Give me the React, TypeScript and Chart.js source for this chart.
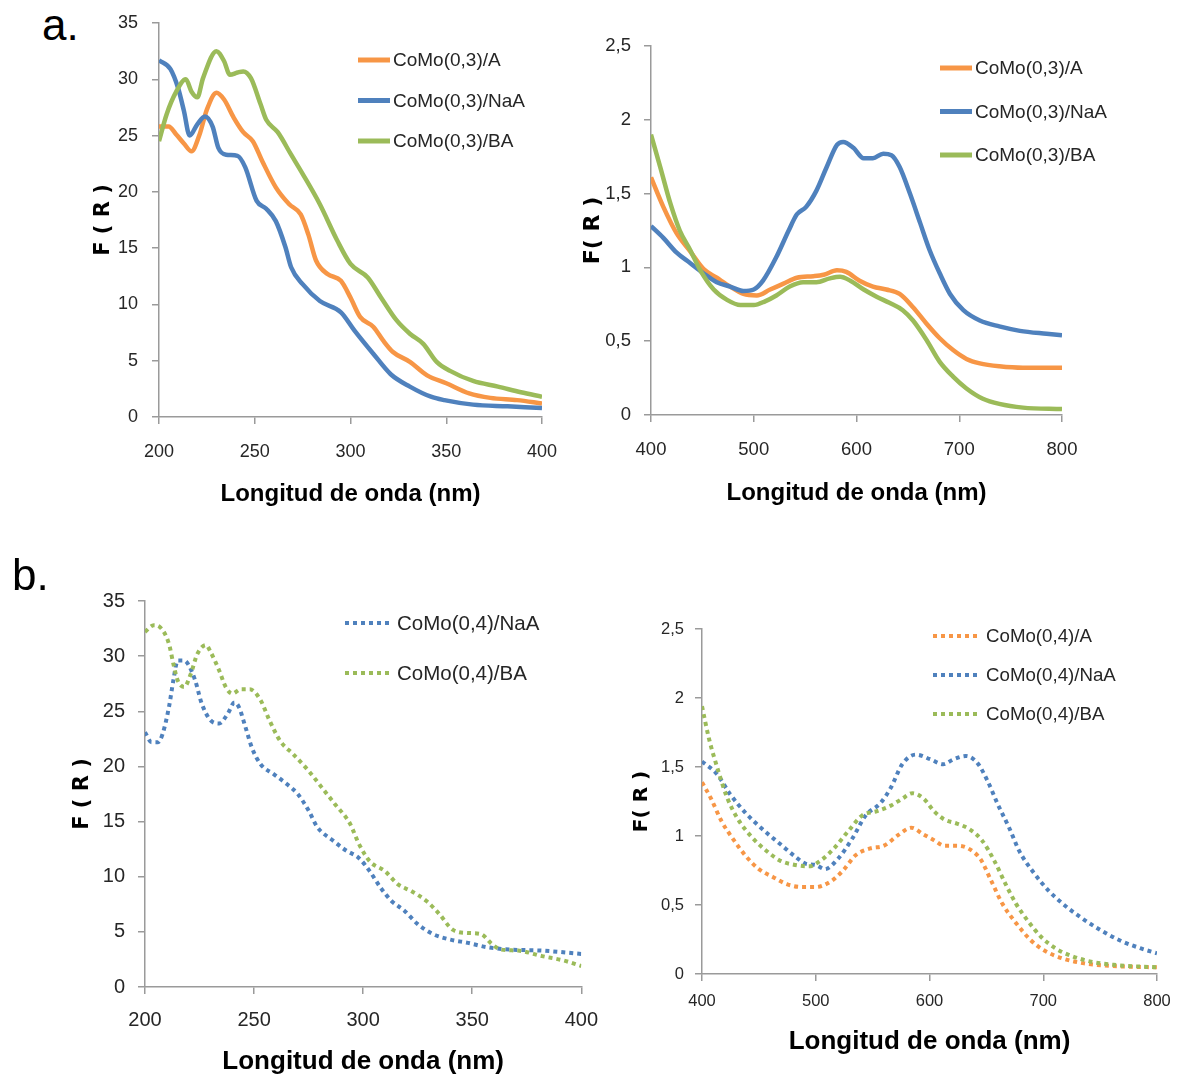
import React, { useEffect, useRef } from 'react';
import { Chart, registerables } from 'chart.js';

Chart.register(...registerables);

// ---------- Panel a (left): CoMo(0,3), 200-400 nm ----------
const a1A_x = [200, 205, 209, 213, 217, 221, 225, 230, 234, 239, 244, 249, 254, 261, 268, 274, 278, 282, 288, 295, 300, 305, 312, 317, 322, 331, 340, 350, 362, 373, 387, 400];
const a1A_y = [25.8, 25.8, 25.1, 24.3, 23.6, 25.0, 27.3, 28.8, 28.2, 26.6, 25.3, 24.5, 22.7, 20.4, 18.9, 18.0, 16.2, 13.9, 12.7, 12.1, 10.6, 8.9, 8.0, 6.8, 5.8, 4.9, 3.7, 3.0, 2.1, 1.7, 1.5, 1.2];
const a1NaA_x = [200, 206, 210, 213, 216, 220, 224, 228, 231, 235, 241, 245, 251, 256, 261, 266, 269, 275, 284, 295, 302, 312, 321, 331, 342, 349, 364, 382, 400];
const a1NaA_y = [31.7, 30.9, 29.2, 27.2, 25.0, 26.0, 26.7, 25.8, 23.9, 23.3, 23.2, 22.2, 19.2, 18.5, 17.4, 15.1, 13.3, 11.8, 10.3, 9.3, 7.7, 5.6, 3.8, 2.7, 1.8, 1.5, 1.1, 0.95, 0.8];
const a1BA_x = [200, 204, 209, 214, 217, 220, 223, 230, 234, 237, 241, 244, 248, 253, 256, 262, 269, 275, 284, 293, 300, 309, 316, 324, 331, 338, 345, 352, 364, 377, 389, 400];
const a1BA_y = [24.5, 26.9, 28.9, 30.0, 28.9, 28.4, 30.1, 32.5, 31.6, 30.4, 30.6, 30.7, 30.1, 27.8, 26.4, 25.3, 23.3, 21.6, 18.9, 15.7, 13.6, 12.4, 10.6, 8.6, 7.4, 6.5, 4.9, 4.1, 3.2, 2.7, 2.2, 1.8];

// ---------- Panel a (right): CoMo(0,3), 400-800 nm ----------
const a2A_x = [400, 412, 425, 438, 451, 464, 477, 490, 503, 516, 529, 542, 558, 568, 581, 590, 603, 616, 629, 642, 655, 668, 681, 694, 707, 720, 739, 762, 800];
const a2A_y = [1.61, 1.41, 1.23, 1.11, 0.99, 0.93, 0.87, 0.82, 0.81, 0.85, 0.89, 0.93, 0.94, 0.95, 0.98, 0.97, 0.91, 0.87, 0.85, 0.82, 0.73, 0.62, 0.52, 0.44, 0.38, 0.35, 0.33, 0.32, 0.32];
const a2NaA_x = [400, 412, 425, 438, 451, 464, 477, 490, 500, 509, 522, 534, 542, 551, 561, 571, 581, 587, 597, 607, 616, 626, 634, 642, 652, 662, 671, 681, 691, 704, 720, 739, 759, 785, 800];
const a2NaA_y = [1.28, 1.20, 1.10, 1.03, 0.96, 0.90, 0.87, 0.84, 0.85, 0.91, 1.07, 1.25, 1.36, 1.41, 1.52, 1.68, 1.83, 1.85, 1.81, 1.74, 1.74, 1.77, 1.76, 1.68, 1.50, 1.30, 1.12, 0.96, 0.82, 0.71, 0.64, 0.60, 0.57, 0.55, 0.54];
const a2BA_x = [400, 409, 419, 428, 438, 448, 461, 474, 487, 500, 511, 522, 535, 548, 561, 574, 584, 594, 607, 620, 632, 645, 655, 668, 681, 694, 707, 723, 739, 762, 800];
const a2BA_y = [1.90, 1.68, 1.43, 1.25, 1.12, 0.98, 0.85, 0.78, 0.745, 0.745, 0.77, 0.81, 0.87, 0.90, 0.90, 0.926, 0.937, 0.91, 0.85, 0.80, 0.76, 0.71, 0.64, 0.51, 0.36, 0.26, 0.18, 0.11, 0.075, 0.05, 0.04];

// ---------- Panel b (left): CoMo(0,4), 200-400 nm ----------
const b1NaA_x = [200, 203, 206, 208, 211, 213, 215, 218, 220, 223, 226, 230, 234, 238, 241, 243, 246, 249, 253, 259, 265, 270, 275, 279, 286, 292, 298, 303, 308, 313, 319, 325, 332, 340, 348, 357, 367, 382, 400];
const b1NaA_y = [23.1, 22.2, 22.2, 22.9, 25.4, 27.8, 29.6, 29.6, 29.2, 27.8, 25.7, 24.2, 23.9, 24.8, 25.8, 25.4, 23.6, 21.7, 20.2, 19.3, 18.4, 17.5, 16.0, 14.5, 13.3, 12.4, 11.7, 10.5, 9.0, 7.8, 6.9, 5.7, 4.8, 4.3, 4.0, 3.6, 3.4, 3.3, 3.0];
const b1BA_x = [200, 204, 207, 211, 213, 215, 218, 221, 224, 228, 230, 234, 237, 240, 244, 248, 253, 257, 262, 268, 275, 281, 287, 294, 298, 303, 310, 316, 322, 329, 335, 341, 348, 354, 359, 363, 371, 382, 392, 400];
const b1BA_y = [32.2, 32.8, 32.6, 31.1, 29.3, 27.8, 27.2, 28.4, 30.2, 31.0, 30.4, 28.7, 27.2, 26.6, 27.0, 27.0, 26.0, 24.2, 22.3, 21.1, 19.6, 18.1, 16.6, 14.8, 13.0, 11.4, 10.5, 9.3, 8.7, 7.8, 6.6, 5.2, 4.9, 4.8, 3.9, 3.4, 3.3, 2.8, 2.4, 1.9];

// ---------- Panel b (right): CoMo(0,4), 400-800 nm ----------
const b2A_x = [400, 408, 417, 428, 439, 450, 463, 475, 488, 500, 513, 524, 535, 548, 560, 573, 584, 595, 604, 613, 624, 634, 645, 654, 664, 676, 689, 701, 717, 736, 761, 800];
const b2A_y = [1.39, 1.27, 1.11, 0.97, 0.85, 0.76, 0.70, 0.65, 0.63, 0.63, 0.67, 0.75, 0.86, 0.91, 0.93, 1.01, 1.06, 1.01, 0.97, 0.93, 0.93, 0.91, 0.83, 0.68, 0.51, 0.37, 0.245, 0.17, 0.113, 0.077, 0.058, 0.048];
const b2NaA_x = [400, 413, 425, 438, 453, 469, 482, 491, 500, 508, 519, 532, 544, 557, 566, 576, 588, 601, 612, 621, 632, 642, 651, 660, 670, 679, 692, 704, 717, 733, 748, 767, 786, 800];
const b2NaA_y = [1.54, 1.45, 1.30, 1.17, 1.05, 0.94, 0.85, 0.80, 0.79, 0.76, 0.83, 0.98, 1.15, 1.24, 1.35, 1.52, 1.59, 1.555, 1.52, 1.555, 1.58, 1.53, 1.40, 1.23, 1.06, 0.89, 0.73, 0.61, 0.51, 0.41, 0.33, 0.245, 0.185, 0.15];
const b2BA_x = [400, 406, 414, 422, 431, 444, 457, 469, 482, 494, 504, 516, 529, 541, 554, 566, 576, 585, 595, 604, 613, 624, 635, 646, 657, 667, 676, 686, 698, 711, 723, 742, 764, 800];
const b2BA_y = [1.94, 1.71, 1.48, 1.28, 1.13, 0.99, 0.89, 0.82, 0.79, 0.78, 0.82, 0.91, 1.04, 1.15, 1.18, 1.22, 1.27, 1.31, 1.27, 1.18, 1.12, 1.09, 1.05, 0.97, 0.82, 0.65, 0.51, 0.39, 0.27, 0.185, 0.137, 0.089, 0.065, 0.048];

// ---------- Ticks ----------
const uvTicks = [200, 250, 300, 350, 400];
const uvTickLabels = ['200', '250', '300', '350', '400'];
const visTicks = [400, 500, 600, 700, 800];
const visTickLabels = ['400', '500', '600', '700', '800'];
const bigFrTicks = [0, 5, 10, 15, 20, 25, 30, 35];
const bigFrTickLabels = ['0', '5', '10', '15', '20', '25', '30', '35'];
const smallFrTicks = [0, 0.5, 1, 1.5, 2, 2.5];
const smallFrTickLabels = ['0', '0,5', '1', '1,5', '2', '2,5'];

const xTitle = 'Longitud de onda (nm)';

const C_A = '#F79646';
const C_NAA = '#4F81BD';
const C_BA = '#9BBB59';
const AXIS = '#9a9a9a';
const TXT = '#262626';
const SANS = "'Liberation Sans', Arial, sans-serif";
const BOLD_Y = "'DejaVu Sans', sans-serif";

const pairs = (xs: number[], ys: number[]) => xs.map((x, i) => ({ x, y: ys[i] }));

const manualLegend = {
  id: 'manualLegend',
  afterDraw(chart: any, _args: any, opts: any) {
    const ctx = chart.ctx as CanvasRenderingContext2D;
    ctx.save();
    chart.data.datasets.forEach((ds: any, i: number) => {
      const y = opts.y + i * opts.gap;
      ctx.strokeStyle = ds.borderColor;
      ctx.lineWidth = opts.lineWidth;
      ctx.lineCap = 'butt';
      ctx.setLineDash(ds.borderDash || []);
      ctx.beginPath();
      ctx.moveTo(opts.x, y);
      ctx.lineTo(opts.x + opts.len, y);
      ctx.stroke();
      ctx.setLineDash([]);
      ctx.fillStyle = TXT;
      ctx.font = opts.font;
      ctx.textBaseline = 'middle';
      ctx.textAlign = 'left';
      ctx.fillText(ds.label, opts.x + opts.len + opts.textGap, y + 1);
    });
    ctx.restore();
  },
};

interface Series { label: string; x: number[]; y: number[]; color: string; }
interface Spec {
  left: number; top: number; w: number; h: number;
  padTop: number; padRight: number;
  yWidth: number; xHeight: number;
  xMin: number; xMax: number; xTicks: number[]; xLabels: string[];
  yMax: number; yTicks: number[]; yLabels: string[];
  tickFont: number; xTickPad: number; yTickPad: number;
  xTitleSize: number; xTitlePad: number;
  yTitle: string; yTitleSize: number; yTitlePad: number;
  dashed: boolean;
  legend: any;
  series: Series[];
}

function buildConfig(s: Spec): any {
  return {
    type: 'line',
    data: {
      datasets: s.series.map((ser, i) => ({
        label: ser.label,
        data: pairs(ser.x, ser.y),
        borderColor: ser.color,
        backgroundColor: ser.color,
        borderWidth: s.dashed ? 4 : 4.5,
        borderDash: s.dashed ? [4, 4] : [],
        borderCapStyle: 'butt',
        pointRadius: 0,
        cubicInterpolationMode: 'monotone',
        fill: false,
        order: s.series.length - i,
      })),
    },
    options: {
      responsive: false,
      animation: false,
      devicePixelRatio: 1,
      layout: { padding: { top: s.padTop, right: s.padRight, left: 0, bottom: 0 } },
      plugins: {
        legend: { display: false },
        tooltip: { enabled: false },
        manualLegend: s.legend,
      },
      scales: {
        x: {
          type: 'linear',
          min: s.xMin,
          max: s.xMax,
          afterFit: (sc: any) => { sc.height = s.xHeight; },
          afterBuildTicks: (sc: any) => { sc.ticks = s.xTicks.map((v) => ({ value: v })); },
          ticks: {
            callback: (v: number) => s.xLabels[s.xTicks.indexOf(v)],
            font: { family: SANS, size: s.tickFont, lineHeight: 1 },
            color: TXT,
            padding: s.xTickPad,
            maxRotation: 0,
            autoSkip: false,
          },
          grid: { display: true, drawOnChartArea: false, drawTicks: true, tickLength: 7, color: AXIS, lineWidth: 1.5 },
          border: { display: true, color: AXIS, width: 1.5 },
          title: {
            display: true,
            text: xTitle,
            color: '#000',
            font: { family: SANS, size: s.xTitleSize, weight: 'bold', lineHeight: 1 },
            padding: { top: 0, bottom: s.xTitlePad },
          },
        },
        y: {
          type: 'linear',
          min: 0,
          max: s.yMax,
          afterFit: (sc: any) => { sc.width = s.yWidth; },
          afterBuildTicks: (sc: any) => { sc.ticks = s.yTicks.map((v) => ({ value: v })); },
          ticks: {
            callback: (v: number) => s.yLabels[s.yTicks.indexOf(v)],
            font: { family: SANS, size: s.tickFont, lineHeight: 1 },
            color: TXT,
            padding: s.yTickPad,
            autoSkip: false,
          },
          grid: { display: true, drawOnChartArea: false, drawTicks: true, tickLength: 7, color: AXIS, lineWidth: 1.5 },
          border: { display: true, color: AXIS, width: 1.5 },
          title: {
            display: true,
            text: s.yTitle,
            color: '#000',
            font: { family: BOLD_Y, size: s.yTitleSize, weight: 'bold', lineHeight: 1 },
            padding: { top: s.yTitlePad, bottom: 0 },
          },
        },
      },
    },
    plugins: [manualLegend],
  };
}

const specs: Spec[] = [
  {
    left: 80, top: 0, w: 500, h: 520, padTop: 22, padRight: 38, yWidth: 79, xHeight: 103,
    xMin: 200, xMax: 400, xTicks: uvTicks, xLabels: uvTickLabels,
    yMax: 35, yTicks: bigFrTicks, yLabels: bigFrTickLabels,
    tickFont: 18, xTickPad: 19, yTickPad: 14, xTitleSize: 24, xTitlePad: 14,
    yTitle: 'F ( R )', yTitleSize: 21, yTitlePad: 13.5, dashed: false,
    legend: { x: 278, y: 60, gap: 40.5, len: 32, textGap: 3, lineWidth: 5, font: `19px ${SANS}` },
    series: [
      { label: 'CoMo(0,3)/A', x: a1A_x, y: a1A_y, color: C_A },
      { label: 'CoMo(0,3)/NaA', x: a1NaA_x, y: a1NaA_y, color: C_NAA },
      { label: 'CoMo(0,3)/BA', x: a1BA_x, y: a1BA_y, color: C_BA },
    ],
  },
  {
    left: 580, top: 0, w: 607, h: 520, padTop: 46, padRight: 125, yWidth: 71, xHeight: 105,
    xMin: 400, xMax: 800, xTicks: visTicks, xLabels: visTickLabels,
    yMax: 2.5, yTicks: smallFrTicks, yLabels: smallFrTickLabels,
    tickFont: 18.5, xTickPad: 19, yTickPad: 13, xTitleSize: 24, xTitlePad: 15,
    yTitle: 'F( R )', yTitleSize: 22, yTitlePad: 2.3, dashed: false,
    legend: { x: 360, y: 68, gap: 43.5, len: 32, textGap: 3, lineWidth: 5, font: `19px ${SANS}` },
    series: [
      { label: 'CoMo(0,3)/A', x: a2A_x, y: a2A_y, color: C_A },
      { label: 'CoMo(0,3)/NaA', x: a2NaA_x, y: a2NaA_y, color: C_NAA },
      { label: 'CoMo(0,3)/BA', x: a2BA_x, y: a2BA_y, color: C_BA },
    ],
  },
  {
    left: 0, top: 560, w: 614, h: 521, padTop: 41, padRight: 0, yWidth: 145, xHeight: 94,
    xMin: 200, xMax: 400, xTicks: uvTicks, xLabels: uvTickLabels,
    yMax: 35, yTicks: bigFrTicks, yLabels: bigFrTickLabels,
    tickFont: 20, xTickPad: 16, yTickPad: 13, xTitleSize: 26, xTitlePad: 6,
    yTitle: 'F ( R )', yTitleSize: 21, yTitlePad: 72, dashed: true,
    legend: { x: 345, y: 63, gap: 50, len: 48, textGap: 4, lineWidth: 4, font: `20.5px ${SANS}` },
    series: [
      { label: 'CoMo(0,4)/NaA', x: b1NaA_x, y: b1NaA_y, color: C_NAA },
      { label: 'CoMo(0,4)/BA', x: b1BA_x, y: b1BA_y, color: C_BA },
    ],
  },
  {
    left: 600, top: 560, w: 587, h: 521, padTop: 69, padRight: 30, yWidth: 102, xHeight: 107,
    xMin: 400, xMax: 800, xTicks: visTicks, xLabels: visTickLabels,
    yMax: 2.5, yTicks: smallFrTicks, yLabels: smallFrTickLabels,
    tickFont: 16.5, xTickPad: 12, yTickPad: 11, xTitleSize: 26, xTitlePad: 26,
    yTitle: 'F( R )', yTitleSize: 20, yTitlePad: 31.5, dashed: true,
    legend: { x: 333, y: 76, gap: 39, len: 48, textGap: 5, lineWidth: 4, font: `18.7px ${SANS}` },
    series: [
      { label: 'CoMo(0,4)/A', x: b2A_x, y: b2A_y, color: C_A },
      { label: 'CoMo(0,4)/NaA', x: b2NaA_x, y: b2NaA_y, color: C_NAA },
      { label: 'CoMo(0,4)/BA', x: b2BA_x, y: b2BA_y, color: C_BA },
    ],
  },
];

function Panel({ spec }: { spec: Spec }) {
  const ref = useRef<HTMLCanvasElement>(null);
  useEffect(() => {
    if (!ref.current) return;
    const chart = new Chart(ref.current, buildConfig(spec));
    return () => chart.destroy();
  }, [spec]);
  return (
    <canvas
      ref={ref}
      width={spec.w}
      height={spec.h}
      style={{ position: 'absolute', left: spec.left, top: spec.top, width: spec.w, height: spec.h }}
    />
  );
}

const panelLabel: React.CSSProperties = {
  position: 'absolute',
  fontFamily: SANS,
  fontSize: 44,
  lineHeight: '46px',
  color: '#000',
};

export default function App() {
  return (
    <div style={{ position: 'absolute', left: 0, top: 0, width: 1187, height: 1081, background: '#fff', overflow: 'hidden' }}>
      {specs.map((s, i) => (
        <Panel key={i} spec={s} />
      ))}
      <div style={{ ...panelLabel, left: 42, top: 2 }}>a.</div>
      <div style={{ ...panelLabel, left: 12, top: 552 }}>b.</div>
    </div>
  );
}
